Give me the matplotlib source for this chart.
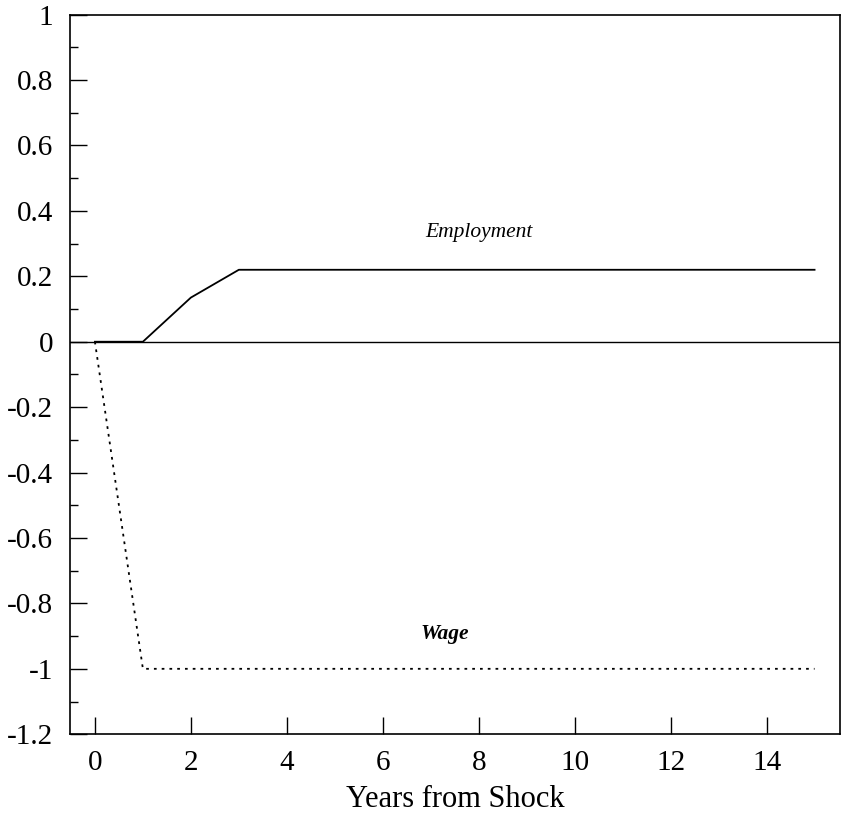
import matplotlib.pyplot as plt
from matplotlib.ticker import MultipleLocator

years = [0, 1, 2, 3, 4, 5, 6, 7, 8, 9, 10, 11, 12, 13, 14, 15]
employment = [0, 0, 0.135, 0.22, 0.22, 0.22, 0.22, 0.22, 0.22, 0.22, 0.22, 0.22, 0.22, 0.22, 0.22, 0.22]
wage = [0, -1, -1, -1, -1, -1, -1, -1, -1, -1, -1, -1, -1, -1, -1, -1]

plt.rcParams["font.family"] = ["Liberation Serif", "DejaVu Serif"]

fig = plt.figure(figsize=(8.43, 8.14), dpi=100)
ax = fig.add_axes([0.083, 0.098, 0.914, 0.884])

ax.axhline(0, color="black", linewidth=1.0)
ax.plot(years, employment, color="black", linewidth=1.3)
ax.plot(years, wage, color="black", linewidth=1.3, linestyle=(0, (1.5, 2.8)))

ax.text(8.0, 0.335, "Employment", style="italic", fontsize=15.5, ha="center", va="center")
ax.text(7.3, -0.895, "Wage", style="italic", fontweight="bold", fontsize=15.5,
        ha="center", va="center")

ax.set_xlim(-0.52, 15.54)
ax.set_ylim(-1.2, 1)
ax.set_xticks(range(0, 15, 2))
ax.yaxis.set_major_locator(MultipleLocator(0.2))
ax.yaxis.set_minor_locator(MultipleLocator(0.1))
ax.set_yticklabels([f"{v:g}" for v in ax.get_yticks()])
ax.tick_params(axis="both", which="major", direction="in", length=12, width=1,
               labelsize=21, top=False, right=False)
ax.tick_params(axis="y", which="minor", direction="in", length=6, width=1, right=False)
ax.tick_params(axis="y", pad=12)
ax.tick_params(axis="x", pad=11)
ax.set_xlabel("Years from Shock", fontsize=22, labelpad=7)
for sp in ax.spines.values():
    sp.set_linewidth(1.2)

fig.savefig("out.png", dpi=100)
